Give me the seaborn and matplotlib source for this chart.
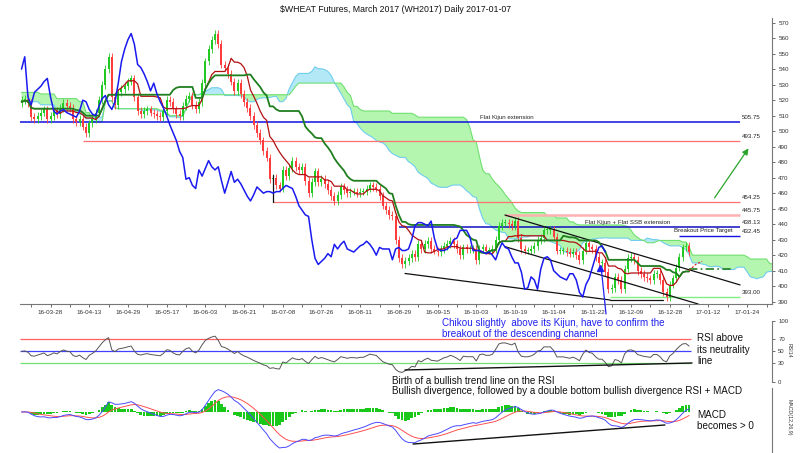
import numpy as np
import pandas as pd
import matplotlib
matplotlib.use("Agg")
import matplotlib.pyplot as plt
import matplotlib.transforms as mtransforms
from matplotlib.lines import Line2D
import seaborn as sns

sns.set_theme(style="white")
plt.rcParams["font.family"] = ["Liberation Sans", "DejaVu Sans"]

# ---------------- data ----------------
TITLE = "$WHEAT Futures, March 2017 (WH2017) Daily 2017-01-07"
date_labels = ["16-03-28", "16-04-13", "16-04-29", "16-05-17", "16-06-03", "16-06-21",
               "16-07-08", "16-07-26", "16-08-11", "16-08-29", "16-09-15", "16-10-03",
               "16-10-19", "16-11-04", "16-11-22", "16-12-09", "16-12-28", "17-01-12",
               "17-01-24"]
first_label_bar = 9
label_step = 12

first_open = 518.0
closes = [
    520, 521, 518, 509, 508, 510, 512, 514, 508, 510,
    513, 511, 515, 518, 516, 515, 508, 506, 508, 503,
    499, 505, 508, 512, 520, 530,
    540, 548, 522, 517, 525, 527, 529, 532, 534, 522,
    513, 511, 513, 514, 512, 511, 510, 509, 513, 520,
    519, 514, 511, 510, 516, 521, 523, 517, 514, 519,
    531, 545, 553, 559, 563, 556, 543, 541, 537, 532,
    526, 531, 524, 519, 515, 510, 504, 499, 494, 487,
    483, 469, 470, 465, 463, 475, 471, 476, 481, 477,
    475, 477, 468, 460, 467, 474, 467, 469, 466, 462,
    458, 455, 459, 464, 462, 460, 461, 461, 460, 461,
    461, 463, 465, 464, 463, 458, 452, 449, 446, 445,
    430, 418, 414, 416, 418, 421, 419, 427, 424, 427,
    429, 424, 423, 422, 424, 426, 427, 429, 427, 424,
    420, 425, 424, 424, 424, 417, 424, 425, 423, 423,
    424, 430, 439, 441, 441, 440, 439, 442, 431, 424,
    423, 423, 424, 426, 430, 431, 436, 436, 436, 432,
    423, 423, 423, 422, 421, 422, 420, 417, 423, 428,
    425, 424, 419, 415, 415, 409, 398, 399, 406, 404,
    398, 411, 418, 419, 417, 410, 408, 406, 405, 404,
    408, 408, 404, 396, 393, 401, 405, 412, 419, 425,
    426, 422,
]
# leading cloud values (computed by the source from history before the window)
span_a_head = [519, 519, 519, 519, 519, 519, 517, 517, 517, 517, 517, 513, 513,
               513, 513, 513, 513, 513, 511, 511, 508, 508, 509, 509, 509, 509]
span_b_head = [525, 525, 525, 525, 525, 525, 524, 524, 524, 524, 524, 521, 521,
               521, 521, 521, 521, 521, 519, 519, 512, 512, 506, 506, 506, 506]

level_values = [505.75, 493.75, 454.25, 445.75, 438.13, 432.45, 393.00]
level_labels = ["505.75", "493.75", "454.25", "445.75", "438.13", "432.45", "393.00"]
price_ticks = [390, 400, 410, 420, 430, 440, 450, 460, 470, 480, 490,
               500, 510, 520, 530, 540, 550, 560, 570]
rsi_levels = [70, 50, 30]
rsi_ticks = [0, 30, 50, 70, 100]

# ---------------- figure ----------------
W, H = 806, 453
fig = plt.figure(figsize=(W / 100, H / 100), dpi=100)


def px_axes(l, t, r, b):
    return fig.add_axes([l / W, 1 - b / H, (r - l) / W, (b - t) / H])


def fx(x):
    return x / W


def fy(y):
    return 1 - y / H


ax = px_axes(20, 18, 772, 304)
ax_rsi = px_axes(20, 321, 772, 381.7)
ax_macd = px_axes(20, 388, 772, 453)
XL = (-0.47, 232.7)

n = len(closes)
x = np.arange(n)
c = np.array(closes, float)
o = np.r_[first_open, c[:-1]]
hi = np.maximum(o, c) + 2.5
lo = np.minimum(o, c) - 2.5

# ---------------- Ichimoku ----------------
hs, ls = pd.Series(hi), pd.Series(lo)
tenkan = ((hs.rolling(9, min_periods=1).max() + ls.rolling(9, min_periods=1).min()) / 2).values
kijun = ((hs.rolling(26, min_periods=1).max() + ls.rolling(26, min_periods=1).min()) / 2).values
span_a = np.r_[span_a_head, (tenkan + kijun) / 2]
span_b = np.r_[span_b_head, ((hs.rolling(52, min_periods=1).max() + ls.rolling(52, min_periods=1).min()) / 2).values]
xs = np.arange(len(span_a))

ax.fill_between(xs, span_a, span_b, where=span_b >= span_a, interpolate=True,
                color="#b4f5b0", lw=0, zorder=1)
ax.fill_between(xs, span_a, span_b, where=span_a > span_b, interpolate=True,
                color="#b3e9f7", lw=0, zorder=1)
ax.plot(xs, span_a, color="#70cdef", lw=0.8, zorder=2)
ax.plot(xs, span_b, color="#6fe06f", lw=0.8, zorder=2)

# horizontal levels
lev_style = [
    dict(x0=-0.47, color="#1010e0", lw=1.1),
    dict(x0=19, color="#ff7070", lw=0.9),
    dict(x0=78, color="#ff7070", lw=0.9),
    dict(x0=150, color="#ffb0b0", lw=1.8),
    dict(x0=117, color="#1010c0", lw=1.1),
    dict(x0=204, color="#1010e0", lw=1.0),
    dict(x0=182.5, color="#80ee80", lw=1.0),
]
x_end = 222.8
for v, lab, st in zip(level_values, level_labels, lev_style):
    ax.hlines(v, st["x0"], x_end, color=st["color"], lw=st["lw"], zorder=2)
    ax.text(223.4, v + 3.0, lab, fontsize=4.4, color="#222", ha="left", va="center")

ax.text(142.2, 508.8, "Flat Kijun extension", fontsize=4.4, color="#222", ha="left", va="center")
ax.text(187.9, 441.0, "Flat Kijun + Flat SSB extension", fontsize=4.4, color="#222",
        ha="center", va="center")
ax.text(220.6, 435.6, "Breakout Price Target", fontsize=4.4, color="#222", ha="right", va="center")

# channel / trend lines
ax.plot([149.9, 222.8], [445.9, 400.8], color="#111", lw=0.9, zorder=4)
ax.plot([149.9, 209.8], [425.5, 388.5], color="#111", lw=0.9, zorder=4)
ax.plot([118.9, 182.5], [408.2, 391.1], color="#111", lw=0.9, zorder=4)
ax.plot([182.5, 198.9], [391.1, 391.1], color="#111", lw=0.9, zorder=4)
ax.plot([78, 78], [454.25, 471.6], color="#111", lw=0.9, zorder=4)

# candles
up = c >= o
col = np.where(up, "#22c922", "#ff3b3b")
ax.vlines(x, lo, hi, colors=col, lw=0.6, zorder=3)
body = np.where(np.abs(c - o) < 0.6, 0.6, c - o)
ax.bar(x, body, bottom=o, width=0.62, color=col, lw=0, zorder=3)

# Ichimoku lines
sns.lineplot(x=x, y=tenkan, ax=ax, color="#b01010", lw=0.9, zorder=5)
sns.lineplot(x=x, y=kijun, ax=ax, color="#1f7f1f", lw=1.3, zorder=5)
sns.lineplot(x=x[: n - 26], y=c[26:], ax=ax, color="#1a1af0", lw=1.1, zorder=5)
ax.plot([207, 221], [411, 411], color="#1f7f1f", lw=1.2, ls=(0, (5, 2, 1, 2)), zorder=5)
ax.plot([207, 209, 211], [410, 414, 416], color="#d02020", lw=0.8, ls=(0, (2, 1.5)), zorder=5)

# arrow and marker
ax.annotate("", xy=(225.9, 490.4), xytext=(214.4, 455.5),
            arrowprops=dict(arrowstyle="-|>", color="#2aa52a", lw=0.9, mutation_scale=9))
ax.plot([179.5], [411.5], marker="^", ms=5, color="#1a1af0", zorder=6)

ax.set_xlim(*XL)
ax.set_ylim(388.5, 573)
ax.yaxis.tick_right()
ax.set_yticks(price_ticks)
ax.set_yticklabels([str(t) for t in price_ticks])
maj = [first_label_bar + label_step * k for k in range(len(date_labels))]
ax.set_xticks(maj)
ax.set_xticklabels(date_labels)
ax.set_xticks([3 + label_step * k for k in range(20)], minor=True)
ax.tick_params(axis="both", which="both", labelsize=4.5, length=2.5, width=0.6,
               colors="#555", labelcolor="#333", pad=2, direction="out")
ax.tick_params(axis="x", which="both", bottom=True)
ax.tick_params(axis="y", right=True, left=False)
for s in ["top", "left"]:
    ax.spines[s].set_visible(False)
for s in ["right", "bottom"]:
    ax.spines[s].set_color("#777")
    ax.spines[s].set_linewidth(0.8)
ax.set_xlabel("")
ax.set_ylabel("")

# ---------------- RSI (Wilder, warm-up seeded at a neutral state) ----------------
d = np.diff(c, prepend=c[0])
seed = 3.0
g_avg, l_avg = seed, seed
rsi = np.empty(n)
for i in range(n):
    g_avg = (g_avg * 13 + max(d[i], 0)) / 14
    l_avg = (l_avg * 13 + max(-d[i], 0)) / 14
    rsi[i] = 100 - 100 / (1 + g_avg / l_avg)
for lv, cl in zip(rsi_levels, ["#ff6060", "#4040ff", "#70e070"]):
    ax_rsi.hlines(lv, XL[0], 207.5, color=cl, lw=0.9)
sns.lineplot(x=x, y=rsi, ax=ax_rsi, color="#555555", lw=0.7)
ax_rsi.plot([118.9, 207.9], [19.3, 30.8], color="#111", lw=1.0)
ax_rsi.set_xlim(*XL)
ax_rsi.set_ylim(0, 100)
ax_rsi.yaxis.tick_right()
ax_rsi.set_yticks(rsi_ticks)
ax_rsi.set_yticklabels([str(t) for t in rsi_ticks])
ax_rsi.set_xticks([])
ax_rsi.tick_params(axis="y", labelsize=4.3, length=2.5, width=0.6, colors="#555",
                   labelcolor="#333", pad=2, right=True, left=False)
for s in ["top", "left", "bottom"]:
    ax_rsi.spines[s].set_visible(False)
ax_rsi.spines["right"].set_color("#777")
ax_rsi.spines["right"].set_linewidth(0.8)
ax_rsi.set_xlabel("")
ax_rsi.set_ylabel("")

# ---------------- MACD ----------------
cs = pd.Series(c)
macd = (cs.ewm(span=12, adjust=False).mean() - cs.ewm(span=26, adjust=False).mean()).values
signal = pd.Series(macd).ewm(span=9, adjust=False).mean().values
hist = macd - signal
zero_frac, min_frac = 0.631, 0.077
k = (min_frac - zero_frac) / min(macd.min(), hist.min())
ax_macd.bar(x, hist, width=0.85, color="#19c819", lw=0)
ax_macd.plot(x, signal, color="#ff5050", lw=0.7)
sns.lineplot(x=x, y=macd, ax=ax_macd, color="#4a4aff", lw=0.7)
ax_macd.set_xlim(*XL)
ax_macd.set_ylim(-zero_frac / k, (1 - zero_frac) / k)
bt = mtransforms.blended_transform_factory(ax_macd.transData, ax_macd.transAxes)
ax_macd.plot([121.4, 199.5], [0.138, 0.431], color="#111", lw=1.0, transform=bt)
ax_macd.set_xticks([])
ax_macd.set_yticks([])
for s in ["top", "left", "bottom"]:
    ax_macd.spines[s].set_visible(False)
ax_macd.spines["right"].set_color("#777")
ax_macd.spines["right"].set_linewidth(0.8)
ax_macd.set_xlabel("")
ax_macd.set_ylabel("")

# ---------------- texts ----------------
fs = 7.1
fig.text(fx(395.5), fy(10), TITLE, fontsize=6.35, color="#111", ha="center", va="center")
fig.text(fx(789), fy(350), "RSI14", fontsize=3.8, color="#333", rotation=270,
         ha="center", va="center")
fig.text(fx(789), fy(417), "MACD(12,26,9)", fontsize=3.8, color="#333", rotation=270,
         ha="center", va="center")
blue_txt = "#2020f0"
fig.text(fx(441.7), fy(323), "Chikou slightly  above its Kijun, have to confirm the",
         fontsize=fs, color=blue_txt, ha="left", va="center")
fig.text(fx(441.7), fy(334), "breakout of the descending channel",
         fontsize=fs, color=blue_txt, ha="left", va="center")
fig.add_artist(Line2D([fx(601), fx(606)], [fy(266), fy(314)], color=blue_txt, lw=0.9))
for yy, t in zip([338.3, 349.7, 361], ["RSI above", "its neutrality", "line"]):
    fig.text(fx(697), fy(yy), t, fontsize=fs, color="#111", ha="left", va="center")
fig.text(fx(391.5), fy(380.5), "Birth of a bullish trend line on the RSI",
         fontsize=fs, color="#111", ha="left", va="center")
fig.text(fx(391.5), fy(391),
         "Bullish divergence, followed by a double bottom bullish divergence RSI + MACD",
         fontsize=fs, color="#111", ha="left", va="center")
fig.text(fx(697), fy(415), "MACD", fontsize=fs, color="#111", ha="left", va="center")
fig.text(fx(697), fy(426), "becomes > 0", fontsize=fs, color="#111", ha="left", va="center")

fig.savefig("out.png", dpi=100, facecolor="white")
